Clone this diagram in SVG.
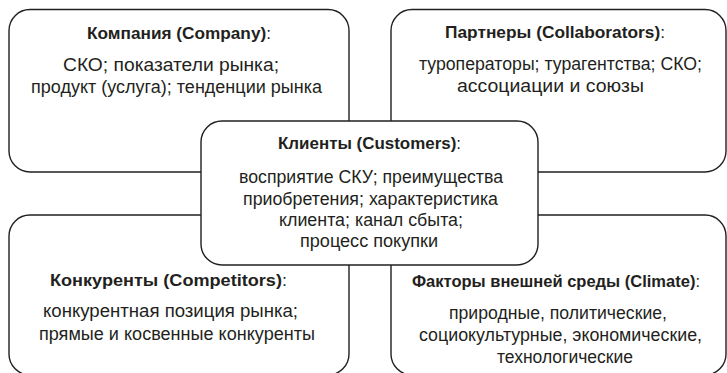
<svg xmlns="http://www.w3.org/2000/svg" width="727" height="373" viewBox="0 0 727 373">
  <style>
    .box { fill: #ffffff; stroke: #231f20; stroke-width: 1.4; }
    text { font-family: "Liberation Sans", Arial, sans-serif; font-size: 17.5px; fill: #231f20; text-anchor: middle; }
    text.h { font-size: 16.5px; }
    .t { font-weight: bold; }
    .c { font-weight: normal; }
  </style>
  <rect width="727" height="373" fill="#ffffff"/>

  <g id="company">
    <rect class="box" x="9" y="9.5" width="340" height="162.5" rx="21" ry="21"/>
    <text class="h" x="179" y="39" textLength="184" lengthAdjust="spacingAndGlyphs"><tspan class="t">Компания (Company)</tspan><tspan class="c">:</tspan></text>
    <text x="171" y="71" textLength="216" lengthAdjust="spacingAndGlyphs">СКО; показатели рынка;</text>
    <text x="176.5" y="93" textLength="291" lengthAdjust="spacingAndGlyphs">продукт (услуга); тенденции рынка</text>
  </g>

  <g id="collaborators">
    <rect class="box" x="391" y="9.5" width="335" height="162.5" rx="21" ry="21"/>
    <text class="h" x="555" y="38" textLength="220" lengthAdjust="spacingAndGlyphs"><tspan class="t">Партнеры (Collaborators)</tspan><tspan class="c">:</tspan></text>
    <text x="560.5" y="70" textLength="283" lengthAdjust="spacingAndGlyphs">туроператоры; турагентства; СКО;</text>
    <text x="550.5" y="92" textLength="187" lengthAdjust="spacingAndGlyphs">ассоциации и союзы</text>
  </g>

  <g id="competitors">
    <rect class="box" x="9" y="215" width="340" height="160" rx="21" ry="21"/>
    <text class="h" x="168.5" y="286" textLength="237" lengthAdjust="spacingAndGlyphs"><tspan class="t">Конкуренты (Competitors)</tspan><tspan class="c">:</tspan></text>
    <text x="170.5" y="317" textLength="255" lengthAdjust="spacingAndGlyphs">конкурентная позиция рынка;</text>
    <text x="177" y="340" textLength="276" lengthAdjust="spacingAndGlyphs">прямые и косвенные конкуренты</text>
  </g>

  <g id="climate">
    <rect class="box" x="391" y="215" width="335" height="160" rx="21" ry="21"/>
    <text class="h" x="556" y="287" textLength="288" lengthAdjust="spacingAndGlyphs"><tspan class="t">Факторы внешней среды (Climate)</tspan><tspan class="c">:</tspan></text>
    <text x="558" y="319" textLength="218" lengthAdjust="spacingAndGlyphs">природные, политические,</text>
    <text x="560.5" y="341" textLength="283" lengthAdjust="spacingAndGlyphs">социокультурные, экономические,</text>
    <text x="565" y="363">технологические</text>
  </g>

  <g id="customers">
    <rect class="box" x="201" y="121" width="337" height="144" rx="21" ry="21"/>
    <text class="h" x="369.5" y="149" textLength="183" lengthAdjust="spacingAndGlyphs"><tspan class="t">Клиенты (Customers)</tspan><tspan class="c">:</tspan></text>
    <text x="371" y="183" textLength="264" lengthAdjust="spacingAndGlyphs">восприятие СКУ; преимущества</text>
    <text x="370.5" y="204.5" textLength="255" lengthAdjust="spacingAndGlyphs">приобретения; характеристика</text>
    <text x="371" y="226" textLength="184" lengthAdjust="spacingAndGlyphs">клиента; канал сбыта;</text>
    <text x="369" y="247" textLength="138" lengthAdjust="spacingAndGlyphs">процесс покупки</text>
  </g>

  <g id="connectors"></g>
</svg>
